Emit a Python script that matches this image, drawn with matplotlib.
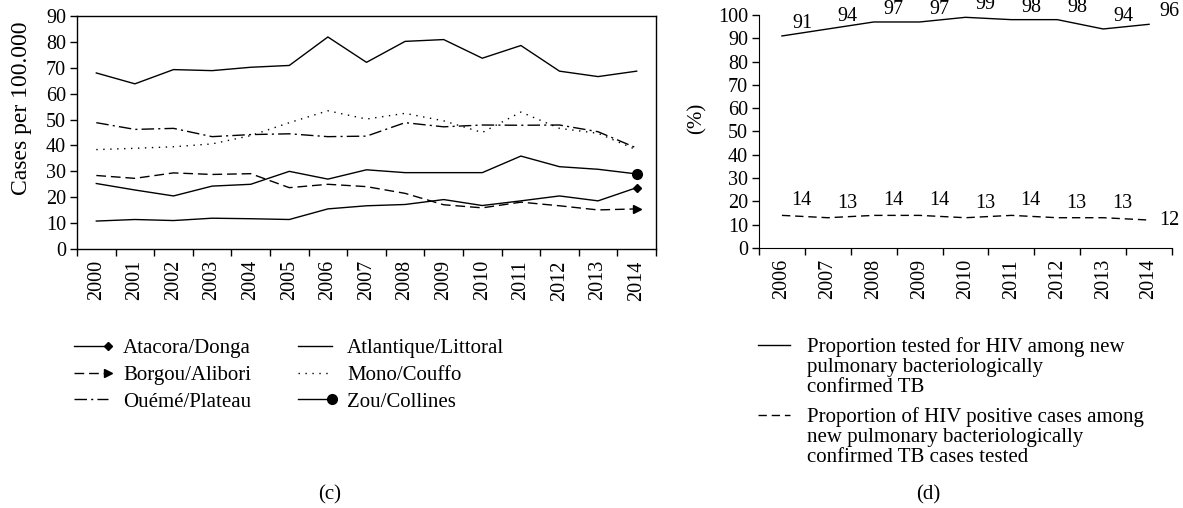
import matplotlib
matplotlib.use("Agg")
import matplotlib.pyplot as plt
from matplotlib.lines import Line2D
from matplotlib.legend_handler import HandlerLine2D
import numpy as np

plt.rcParams['font.family'] = ['Liberation Serif', 'DejaVu Serif']

# ---- Panel (c) data ----
years_c = [str(y) for y in range(2000, 2015)]
atacora_donga = [10.8, 11.4, 11.0, 11.9, 11.7, 11.4, 15.5, 16.7, 17.2, 19.1, 16.8, 18.6, 20.5, 18.6, 23.7]
borgou_alibori = [28.4, 27.3, 29.4, 28.8, 29.1, 23.7, 25.0, 24.1, 21.5, 17.1, 15.9, 18.1, 16.7, 15.1, 15.5]
oueme_plateau = [48.8, 46.2, 46.6, 43.4, 44.2, 44.5, 43.4, 43.6, 48.8, 47.2, 47.9, 47.8, 47.9, 45.3, 39.0]
atlantique_littoral = [68.0, 63.8, 69.3, 68.9, 70.2, 70.9, 81.9, 72.1, 80.2, 80.9, 73.7, 78.6, 68.7, 66.6, 68.7]
mono_couffo = [38.4, 38.9, 39.5, 40.6, 43.8, 48.8, 53.4, 50.2, 52.4, 49.5, 45.0, 52.9, 46.6, 44.7, 38.3]
zou_collines = [25.3, 22.8, 20.5, 24.3, 25.0, 30.0, 27.0, 30.6, 29.5, 29.5, 29.5, 35.9, 31.8, 30.8, 29.0]

# ---- Panel (d) data ----
years_d = [str(y) for y in range(2006, 2015)]
tested_hiv = [91, 94, 97, 97, 99, 98, 98, 94, 96]
hiv_positive = [14, 13, 14, 14, 13, 14, 13, 13, 12]


class EndMarkerHandler(HandlerLine2D):
    def __init__(self, yshift=0.0, **kw):
        super().__init__(**kw)
        self.yshift = yshift

    def create_artists(self, legend, orig_handle, xdescent, ydescent,
                       width, height, fontsize, trans):
        ydata = height / 2.0 - ydescent + self.yshift
        line = Line2D([-xdescent, width - xdescent], [ydata, ydata])
        self.update_prop(line, orig_handle, legend)
        line.set_marker('None')
        line.set_transform(trans)
        artists = [line]
        if orig_handle.get_marker() not in (None, 'None', '', ' '):
            m = Line2D([width - xdescent], [ydata])
            self.update_prop(m, orig_handle, legend)
            m.set_linestyle('None')
            m.set_markevery(None)
            m.set_transform(trans)
            artists.append(m)
        return artists


fig = plt.figure(figsize=(11.83, 5.08), dpi=100)
ax1 = fig.add_axes([0.0651, 0.5098, 0.4894, 0.4587])
ax2 = fig.add_axes([0.6416, 0.5118, 0.3491, 0.4587])

FS = 14.5
LFS = 15
k = 'black'
lw = 1.0
x_c = np.arange(len(years_c))
last = [len(years_c) - 1]

series_c = [
    ("Atacora/Donga", atacora_donga, dict(ls='-', marker='D', markersize=4.5)),
    ("Borgou/Alibori", borgou_alibori, dict(ls=(0, (7, 3.5)), marker='>', markersize=6)),
    ("Ouémé/Plateau", oueme_plateau, dict(ls=(0, (9, 3, 1.5, 3)), marker=None)),
    ("Atlantique/Littoral", atlantique_littoral, dict(ls='-', marker=None)),
    ("Mono/Couffo", mono_couffo, dict(ls=(0, (1, 4)), marker=None)),
    ("Zou/Collines", zou_collines, dict(ls='-', marker='o', markersize=7)),
]
handles = []
for name, vals, st in series_c:
    kw = dict(color=k, lw=lw, linestyle=st['ls'], label=name)
    if st['marker']:
        kw.update(marker=st['marker'], markersize=st['markersize'], markevery=last,
                  markerfacecolor=k, markeredgecolor=k)
    h, = ax1.plot(x_c, vals, **kw)
    handles.append(h)

ax1.set_xlim(-0.5, len(years_c) - 0.5)
ax1.set_ylim(0, 90)
ax1.set_yticks(np.arange(0, 91, 10))
ax1.set_xticks(np.arange(-0.5, len(years_c), 1.0))
ax1.set_xticklabels([])
ax1.set_xticks(x_c, minor=True)
ax1.set_xticklabels(years_c, minor=True, rotation=90, fontsize=FS)
ax1.tick_params(axis='x', which='minor', length=0, pad=8)
ax1.tick_params(axis='x', which='major', direction='out', length=5, width=1)
ax1.tick_params(axis='y', direction='out', length=5, width=1, labelsize=FS, pad=3)
for s in ax1.spines.values():
    s.set_linewidth(1.0)
ax1.set_ylabel("Cases per 100.000", fontsize=17)
ax1.yaxis.set_label_coords(-0.077, 0.605)

leg1 = ax1.legend(handles=handles, ncol=2, loc='upper left',
                  bbox_to_anchor=(-0.0375, -0.305), frameon=False, fontsize=LFS,
                  handlelength=1.63, handletextpad=0.72, columnspacing=2.25,
                  labelspacing=0.34, handler_map={Line2D: EndMarkerHandler()})

# ---- Panel (d) ----
x_d = np.arange(len(years_d))
h1, = ax2.plot(x_d, tested_hiv, color=k, lw=lw, ls='-',
               label="Proportion tested for HIV among new\npulmonary bacteriologically\nconfirmed TB")
h2, = ax2.plot(x_d, hiv_positive, color=k, lw=lw, ls=(0, (6, 3.5)),
               label="Proportion of HIV positive cases among\nnew pulmonary bacteriologically\nconfirmed TB cases tested")
for i, v in enumerate(tested_hiv):
    ax2.annotate(str(v), (x_d[i], v), xytext=(14.4, 9.0), textcoords='offset points',
                 ha='center', va='center', fontsize=FS, annotation_clip=False)
for i, v in enumerate(hiv_positive):
    if i == len(hiv_positive) - 1:
        ax2.annotate(str(v), (x_d[i], v), xytext=(14.5, 0), textcoords='offset points',
                     ha='center', va='center', fontsize=FS)
    else:
        ax2.annotate(str(v), (x_d[i], v), xytext=(14, 10.5), textcoords='offset points',
                     ha='center', va='center', fontsize=FS)

ax2.set_xlim(-0.5, len(years_d) - 0.5)
ax2.set_ylim(0, 100)
ax2.set_yticks(np.arange(0, 101, 10))
ax2.set_xticks(np.arange(-0.5, len(years_d), 1.0))
ax2.set_xticklabels([])
ax2.set_xticks(x_d, minor=True)
ax2.set_xticklabels(years_d, minor=True, rotation=90, fontsize=FS)
ax2.tick_params(axis='x', which='minor', length=0, pad=8)
ax2.tick_params(axis='x', which='major', direction='out', length=5, width=1)
ax2.tick_params(axis='y', direction='out', length=5, width=1, labelsize=FS, pad=3)
ax2.spines['top'].set_visible(False)
ax2.spines['right'].set_visible(False)
ax2.set_ylabel("(%)", fontsize=15)
ax2.yaxis.set_label_coords(-0.126, 0.558)

leg2 = ax2.legend(handles=[h1, h2], loc='upper left', bbox_to_anchor=(-0.048, -0.30),
                  frameon=False, fontsize=LFS, handlelength=1.55, handletextpad=0.8,
                  labelspacing=0.5,
                  handler_map={Line2D: EndMarkerHandler(yshift=15.5)})
for t in leg2.get_texts():
    t.set_linespacing(1.08)

fig.text(0.279, 0.025, "(c)", ha='center', va='center', fontsize=15)
fig.text(0.785, 0.025, "(d)", ha='center', va='center', fontsize=15)

fig.savefig("out.png", dpi=100)
